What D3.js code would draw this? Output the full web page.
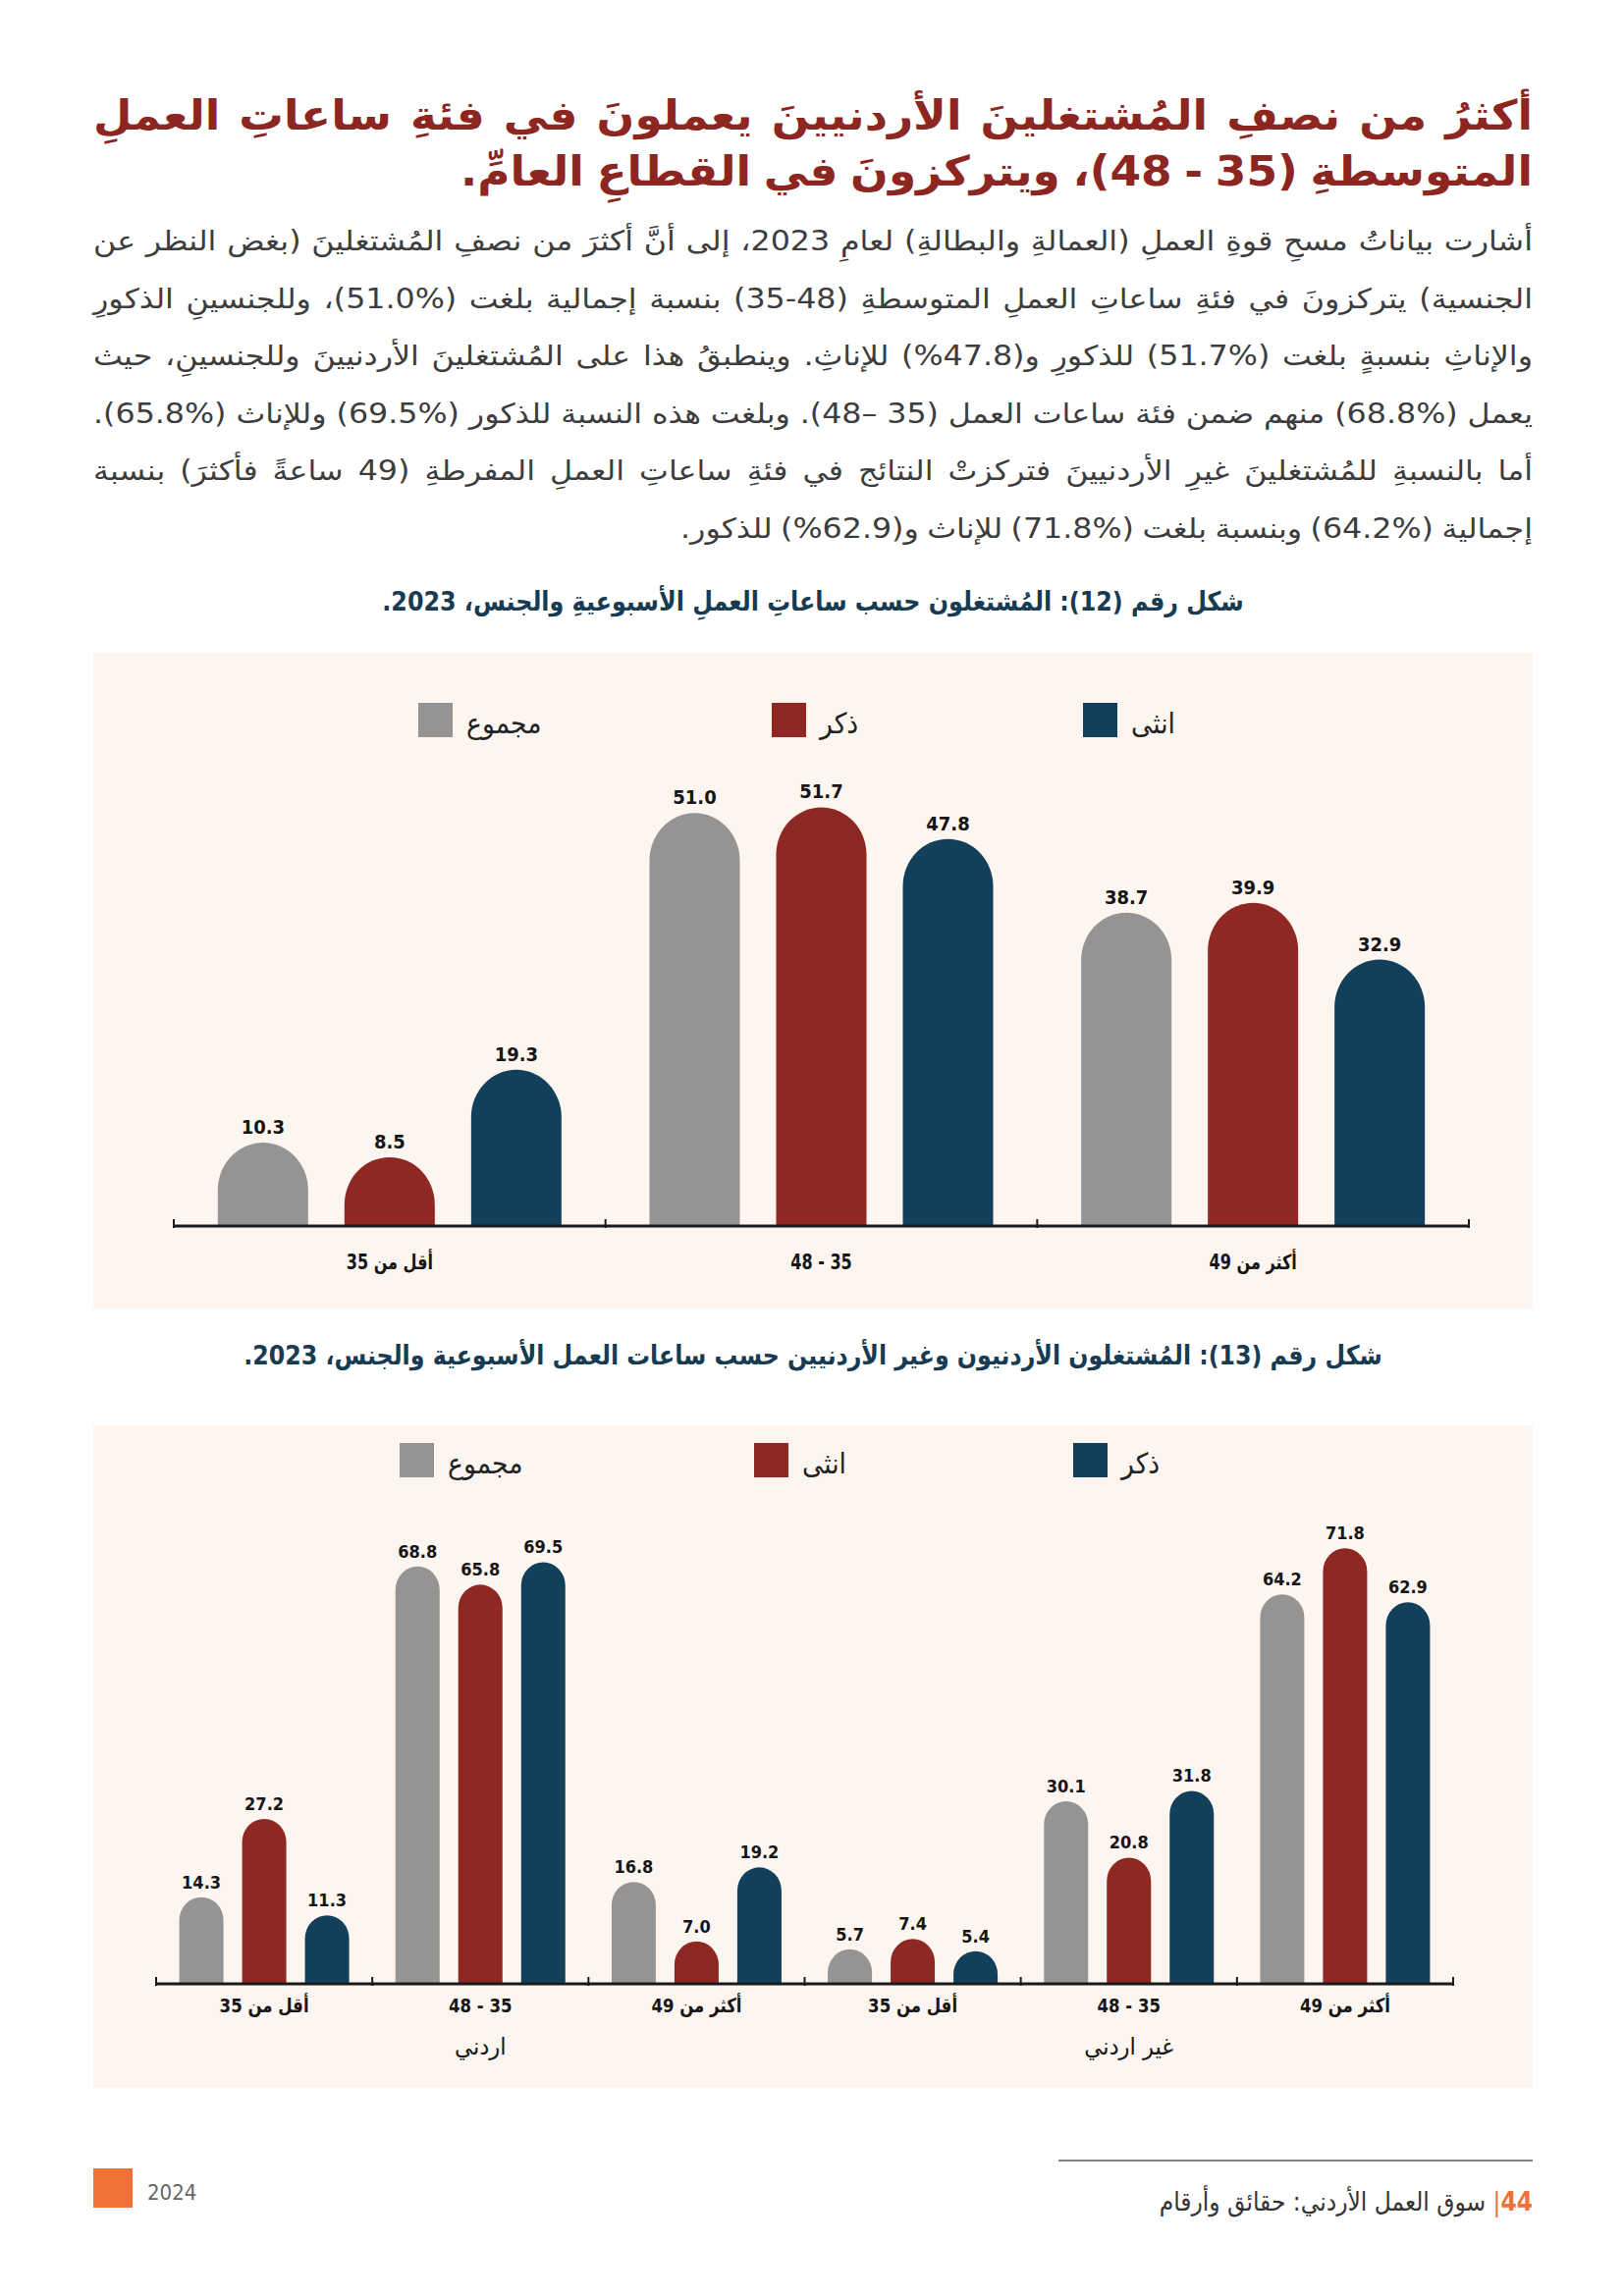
<!DOCTYPE html>
<html lang="ar">
<head>
<meta charset="utf-8">
<script src="https://cdn.jsdelivr.net/npm/d3@7"></script>
<style>
html,body{margin:0;padding:0;background:#fff;}
#page{position:relative;width:1654px;height:2339px;overflow:hidden;}
svg{position:absolute;left:0;top:0;}
</style>
</head>
<body>
<div id="page"><svg id="svg" width="1654" height="2339"></svg></div>
<script>
// ---------------- DATA ----------------
const hourCats = ["أقل من 35", "35 - 48", "أكثر من 49"];

const fig12Series = ["مجموع", "ذكر", "انثى"];
const fig12Total  = [10.3, 51.0, 38.7];
const fig12Male   = [8.5, 51.7, 39.9];
const fig12Female = [19.3, 47.8, 32.9];

const fig13Nationality = ["اردني", "غير اردني"];
const fig13Series = ["مجموع", "انثى", "ذكر"];
const fig13Total  = [14.3, 68.8, 16.8, 5.7, 30.1, 64.2];
const fig13Female = [27.2, 65.8, 7.0, 7.4, 20.8, 71.8];
const fig13Male   = [11.3, 69.5, 19.2, 5.4, 31.8, 62.9];

const titleLines = [
  "أكثرُ من نصفِ المُشتغلينَ الأردنيينَ يعملونَ في فئةِ ساعاتِ العملِ",
  "المتوسطةِ (35 - 48)، ويتركزونَ في القطاعِ العامِّ."
];
const paraLines = [
  "أشارت بياناتُ مسحِ قوةِ العملِ (العمالةِ والبطالةِ) لعامِ 2023، إلى أنَّ أكثرَ من نصفِ المُشتغلينَ (بغض النظر عن",
  "الجنسية) يتركزونَ في فئةِ ساعاتِ العملِ المتوسطةِ (35-48) بنسبة إجمالية بلغت (51.0%)، وللجنسينِ الذكورِ",
  "والإناثِ بنسبةٍ بلغت (51.7%) للذكورِ و(47.8%) للإناثِ. وينطبقُ هذا على المُشتغلينَ الأردنيينَ وللجنسينِ، حيث",
  "يعمل (68.8%) منهم ضمن فئة ساعات العمل (35 –48). وبلغت هذه النسبة للذكور (69.5%) وللإناث (65.8%).",
  "أما بالنسبةِ للمُشتغلينَ غيرِ الأردنيينَ فتركزتْ النتائج في فئةِ ساعاتِ العملِ المفرطةِ (49 ساعةً فأكثرَ) بنسبة",
  "إجمالية (64.2%) وبنسبة بلغت (71.8%) للإناث و(62.9%) للذكور."
];
const fig12Title = "شكل رقم (12): المُشتغلون حسب ساعاتِ العملِ الأسبوعيةِ والجنس، 2023.";
const fig13Title = "شكل رقم (13): المُشتغلون الأردنيون وغير الأردنيين حسب ساعات العمل الأسبوعية والجنس، 2023.";
const footerPage = "44";
const footerText = "سوق العمل الأردني: حقائق وأرقام";
const footerYear = "2024";

// ---------------- STYLE ----------------
const AR = "'DejaVu Sans Condensed','DejaVu Sans',sans-serif";
const NUM = "'Liberation Sans Narrow','DejaVu Sans Condensed','DejaVu Sans',sans-serif";
const C_GREY = "#959492", C_RED = "#8f2723", C_BLUE = "#12405a";
const C_PANEL = "#fdf5f0", C_TITLE = "#8d2621", C_CAP = "#173b52", C_TEXT = "#3d3d3d";
const RIGHT = 1561, LEFT = 95;

const svg = d3.select("#svg");

function mkText(g, str, o) {
  return g.append("text")
    .attr("direction", "rtl")
    .attr("text-anchor", "middle")
    .attr("font-family", o.family || AR)
    .attr("font-size", o.size)
    .attr("font-weight", o.weight || "normal")
    .attr("fill", o.fill || "#222")
    .text(str);
}
function placeAt(t, cx, y, s) {
  t.attr("x", 0).attr("y", 0).attr("transform", `translate(${cx},${y}) scale(${s},1)`);
}
function width(t) { return t.node().getComputedTextLength(); }

// justified block of lines (RTL), word by word
function block(lines, o) {
  const g = svg.append("g");
  const L = lines.map(line => {
    const words = line.split(" ");
    const nodes = words.map(w => mkText(g, w, o));
    const ws = nodes.map(width);
    return {nodes, ws, sum: d3.sum(ws)};
  });
  const avail = o.right - o.left;
  const normGap = o.size * o.normGap;
  const minGap = o.size * o.minGap;
  const tl = L[o.targetLine];
  let s = (o.targetW - normGap * (tl.nodes.length - 1)) / tl.sum;
  L.forEach((l, i) => {
    if (o.justify[i]) s = Math.min(s, (avail - minGap * (l.nodes.length - 1)) / l.sum);
  });
  L.forEach((l, i) => {
    const n = l.nodes.length;
    const gap = o.justify[i] ? (avail - s * l.sum) / (n - 1) : normGap;
    let cur = o.right;
    l.nodes.forEach((t, j) => {
      const w = s * l.ws[j];
      placeAt(t, cur - w / 2, o.y0 + i * o.lh, s);
      cur -= w + gap;
    });
  });
}

// ---------------- TITLE + PARAGRAPH ----------------
block(titleLines, {right: RIGHT, left: LEFT, y0: 132, lh: 57, size: 42, weight: "bold",
  fill: C_TITLE, minGap: 0.2, normGap: 0.3, justify: [true, false], targetLine: 1, targetW: 1092});
block(paraLines, {right: RIGHT, left: LEFT, y0: 255, lh: 58.5, size: 28, weight: "normal",
  fill: C_TEXT, minGap: 0.2, normGap: 0.3, justify: [true, true, true, true, true, false],
  targetLine: 5, targetW: 868});

// ---------------- CHART ----------------
function fitCenter(t, cx, y, target) {
  const w = width(t);
  const s = Math.max(0.6, Math.min(1.2, target / w));
  placeAt(t, cx, y, s);
}

function drawChart(c) {
  const g = svg.append("g");
  g.append("rect").attr("x", c.panel[0]).attr("y", c.panel[1])
    .attr("width", c.panel[2]).attr("height", c.panel[3]).attr("fill", C_PANEL);

  fitCenter(mkText(svg, c.caption, {size: 27, weight: "bold", fill: C_CAP}), c.capX, c.capY, c.capW);

  // legend
  c.series.forEach((s, i) => {
    g.append("rect").attr("x", c.legX[i]).attr("y", c.legY).attr("width", 35).attr("height", 35)
      .attr("fill", c.colors[i]);
    const t = mkText(g, s, {size: 29, fill: "#222"});
    const sc = 1.02;
    const w = width(t) * sc;
    placeAt(t, c.legX[i] + 35 + 14 + w / 2, c.legY + 31, sc);
  });

  const n = c.values[0].length;
  const xg = d3.scaleBand().domain(d3.range(n)).range([c.x0, c.x1]).padding(0);
  const B = xg.bandwidth();
  const pi = 1 - c.barW / c.step;
  const po = (B / c.step - c.series.length + pi) / 2;
  const xs = d3.scaleBand().domain(c.series).range([0, B]).paddingInner(pi).paddingOuter(po);
  const y = d3.scaleLinear().domain([0, c.ymax]).range([c.axisY, c.axisY - c.ymax * c.ppu]);

  const bar = (x, w, y0, yt) => {
    const rx = w / 2, ry = Math.min(rx * 1.05, y0 - yt);
    return `M${x},${y0}V${yt + ry}A${rx},${ry} 0 0 1 ${x + w},${yt + ry}V${y0}Z`;
  };

  c.series.forEach((s, si) => {
    c.values[si].forEach((v, gi) => {
      const x = xg(gi) + xs(s);
      const w = xs.bandwidth();
      g.append("path").attr("d", bar(x, w, y(0), y(v))).attr("fill", c.colors[si]);
      const t = mkText(g, v.toFixed(1), {size: c.valSize, weight: "bold", fill: "#161616", family: NUM});
      t.attr("direction", "ltr");
      placeAt(t, x + w / 2, y(v) - 9, 1);
    });
  });

  // axis
  g.append("line").attr("x1", c.x0).attr("x2", c.x1).attr("y1", c.axisY).attr("y2", c.axisY)
    .attr("stroke", "#1a1a1a").attr("stroke-width", 3);
  d3.range(n + 1).forEach(i => {
    const x = i < n ? xg(i) : c.x1;
    g.append("line").attr("x1", x).attr("x2", x).attr("y1", c.axisY - 7).attr("y2", c.axisY + 2)
      .attr("stroke", "#1a1a1a").attr("stroke-width", 2);
  });
  d3.range(n).forEach(i => {
    const t = mkText(g, c.cats[i % c.cats.length], {size: c.catSize, weight: "bold", fill: "#161616"});
    placeAt(t, xg(i) + B / 2, c.catY, c.catScale);
  });
  if (c.groupLabels) {
    const per = n / c.groupLabels.length;
    c.groupLabels.forEach((lab, k) => {
      const cx = (xg(k * per) + xg(k * per + per - 1) + B) / 2;
      const t = mkText(g, lab, {size: 24, fill: "#161616"});
      placeAt(t, cx, c.groupY, 1.05);
    });
  }
}

drawChart({
  panel: [LEFT, 665, RIGHT - LEFT, 668],
  caption: fig12Title, capX: 828, capY: 622, capW: 878,
  series: fig12Series, colors: [C_GREY, C_RED, C_BLUE],
  values: [fig12Total, fig12Male, fig12Female],
  legX: [426, 786, 1103], legY: 716,
  cats: hourCats,
  x0: 177, x1: 1496, axisY: 1249, ppu: 8.25, ymax: 60, barW: 92, step: 129,
  valSize: 20, catSize: 21, catScale: 0.85, catY: 1293
});

drawChart({
  panel: [LEFT, 1452, RIGHT - LEFT, 675],
  caption: fig13Title, capX: 828, capY: 1390, capW: 1160,
  series: fig13Series, colors: [C_GREY, C_RED, C_BLUE],
  values: [fig13Total, fig13Female, fig13Male],
  legX: [407, 768, 1093], legY: 1470,
  cats: hourCats, groupLabels: fig13Nationality, groupY: 2093,
  x0: 159, x1: 1480, axisY: 2021, ppu: 6.18, ymax: 80, barW: 45, step: 64,
  valSize: 18, catSize: 20, catScale: 0.92, catY: 2050
});

// ---------------- FOOTER ----------------
svg.append("line").attr("x1", 1078).attr("x2", RIGHT).attr("y1", 2201).attr("y2", 2201)
  .attr("stroke", "#555").attr("stroke-width", 1.5);
svg.append("rect").attr("x", 95).attr("y", 2209).attr("width", 40).attr("height", 40).attr("fill", "#f07236");
svg.append("text").attr("x", 150).attr("y", 2241).attr("font-family", AR)
  .attr("font-size", 22).attr("font-weight", 300).attr("fill", "#666").text(footerYear);
const ft = svg.append("text").attr("direction", "rtl").attr("text-anchor", "middle")
  .attr("font-family", AR).attr("font-size", 26);
ft.append("tspan").attr("fill", "#f07236").attr("font-weight", "bold").text(footerPage);
ft.append("tspan").attr("fill", "#f07236").text("| ");
ft.append("tspan").attr("fill", "#333").text(footerText);
const fw = width(ft);
placeAt(ft, RIGHT - fw / 2, 2252, 1);
</script>
</body>
</html>
